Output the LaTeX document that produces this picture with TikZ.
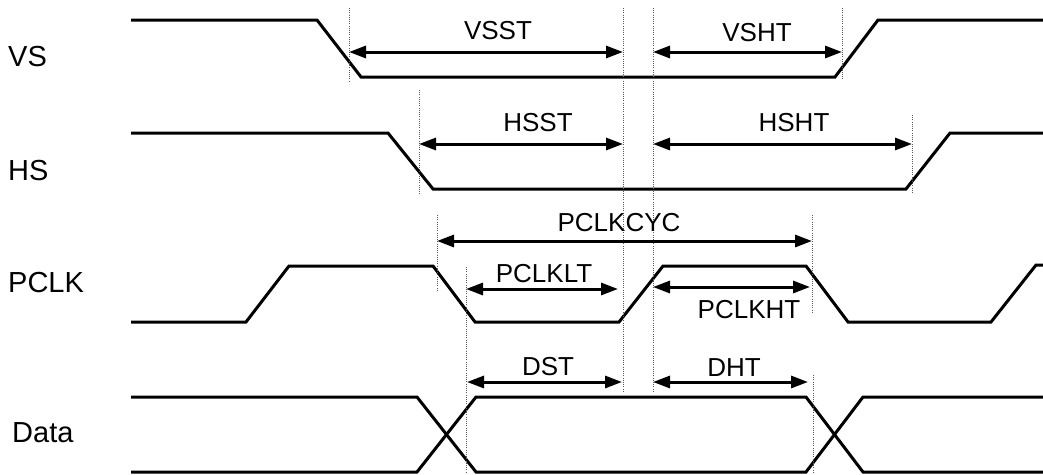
\documentclass[tikz,border=0pt]{standalone}
\usepackage{fontspec}
\setmainfont{Liberation Sans}
\usetikzlibrary{arrows.meta}
\begin{document}
\begin{tikzpicture}[x=1pt,y=-1pt,
  sig/.style={line width=3pt, line join=miter},
  guide/.style={line width=0.8pt, black!65, dash pattern=on 1pt off 1.2pt},
  dim/.style={line width=3pt, {Triangle[length=17pt,width=12pt]}-{Triangle[length=17pt,width=12pt]}},
  lab/.style={font=\fontsize{29}{32}\selectfont, anchor=west, inner sep=0pt},
  tlab/.style={font=\fontsize{26}{30}\selectfont, inner sep=0pt}]
\useasboundingbox (0,0) rectangle (1043,474);

% signal labels
\node[lab] (lvs) at (8,57) {VS};
\node[lab] (lhs) at (8,171) {HS};
\node[lab] (lpclk) at (8,283) {PCLK};
\node[lab] (ldata) at (12,433) {Data};

% waveforms
\draw[sig] (131,20) -- (317,20) -- (361,77) -- (835,77) -- (878,20) -- (1043,20);
\draw[sig] (131,133) -- (388,133) -- (433,189) -- (906,189) -- (950,133) -- (1043,133);
\draw[sig] (131,322) -- (246,322) -- (289,266) -- (433,266) -- (475,322) -- (619,322)
  -- (663,266) -- (806,266) -- (848,322) -- (991,322) -- (1036,265) -- (1043,265);
\draw[sig] (131,397) -- (417,397) -- (476,472) -- (806,472) -- (863,397) -- (1043,397);
\draw[sig] (131,472) -- (417,472) -- (476,397) -- (806,397) -- (863,472) -- (1043,472);

% guide lines
\coordinate (g1t) at (349,8);   \coordinate (g1b) at (349,81);
\coordinate (g2t) at (623,8);   \coordinate (g2b) at (623,392);
\coordinate (g3t) at (653,8);   \coordinate (g3b) at (653,392);
\coordinate (g4t) at (842,8);   \coordinate (g4b) at (842,80);
\coordinate (g5t) at (419,90);  \coordinate (g5b) at (419,195);
\coordinate (g6t) at (912,115); \coordinate (g6b) at (912,193);
\coordinate (g7t) at (437,215); \coordinate (g7b) at (437,292);
\coordinate (g8t) at (812,215); \coordinate (g8b) at (812,312);
\coordinate (g9t) at (466,267); \coordinate (g9b) at (466,472);
\coordinate (g10t) at (813,375); \coordinate (g10b) at (813,472);
\foreach \i in {1,...,10} \draw[guide] (g\i t) -- (g\i b);

% dimension arrows
\coordinate (vsstA) at (349,52);  \coordinate (vsstB) at (623,52);
\coordinate (vshtA) at (653,52);  \coordinate (vshtB) at (842,52);
\coordinate (hsstA) at (419,144); \coordinate (hsstB) at (623,144);
\coordinate (hshtA) at (653,144); \coordinate (hshtB) at (912,144);
\coordinate (cycA) at (437,241);  \coordinate (cycB) at (812,241);
\coordinate (ltA) at (466,289);   \coordinate (ltB) at (618,289);
\coordinate (htA) at (653,287);   \coordinate (htB) at (810,287);
\coordinate (dstA) at (467,382);  \coordinate (dstB) at (622,382);
\coordinate (dhtA) at (653,382);  \coordinate (dhtB) at (808,382);
\draw[dim] (vsstA) -- (vsstB);
\draw[dim] (vshtA) -- (vshtB);
\draw[dim] (hsstA) -- (hsstB);
\draw[dim] (hshtA) -- (hshtB);
\draw[dim] (cycA) -- (cycB);
\draw[dim] (ltA) -- (ltB);
\draw[dim] (htA) -- (htB);
\draw[dim] (dstA) -- (dstB);
\draw[dim] (dhtA) -- (dhtB);

% timing labels
\node[tlab] (tvsst) at (498,31) {VSST};
\node[tlab] (tvsht) at (757,33) {VSHT};
\node[tlab] (thsst) at (538,123) {HSST};
\node[tlab] (thsht) at (794,123) {HSHT};
\node[tlab] (tcyc) at (619,223) {PCLKCYC};
\node[tlab] (tlt) at (544,274) {PCLKLT};
\node[tlab] (tht) at (749,310) {PCLKHT};
\node[tlab] (tdst) at (548,367) {DST};
\node[tlab] (tdht) at (734,368) {DHT};
\end{tikzpicture}
\end{document}
